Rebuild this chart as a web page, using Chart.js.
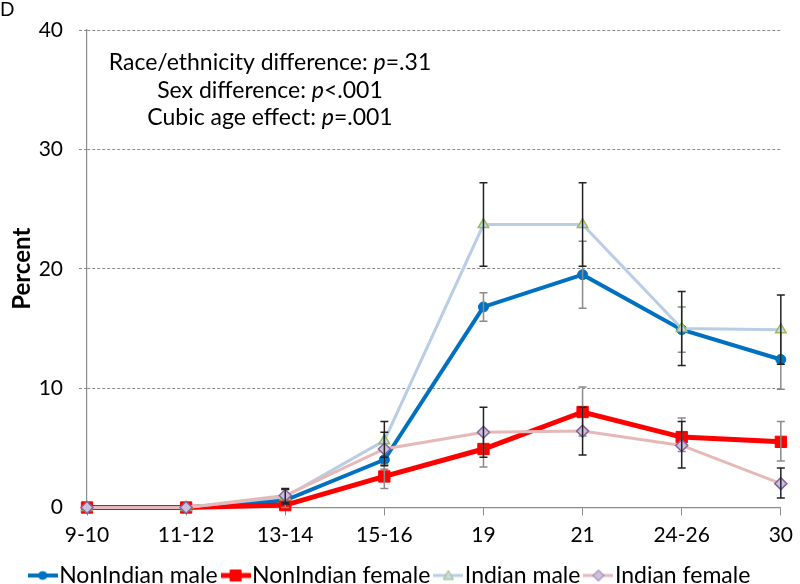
<!DOCTYPE html>
<html>
<head>
<meta charset="utf-8">
<title>Percent by age</title>
<script src="https://cdn.jsdelivr.net/npm/chart.js@4.4.0/dist/chart.umd.min.js"></script>
<style>
body { margin: 0; background: #fff; }
</style>
</head>
<body>
<canvas id="myChart" width="800" height="584"></canvas>
<script>
var ages = ["9-10", "11-12", "13-14", "15-16", "19", "21", "24-26", "30"];

var nonIndianMale = [0, 0, 0.6, 4.0, 16.8, 19.5, 14.9, 12.4];
var nonIndianFemale = [0, 0, 0.2, 2.6, 4.9, 8.0, 5.9, 5.5];
var indianMale = [0, 0, 0.9, 5.6, 23.7, 23.7, 15.0, 14.9];
var indianFemale = [0, 0, 1.0, 4.9, 6.3, 6.4, 5.2, 2.0];

// error bar ends
var nonIndianMaleLow = [0, 0, 0.3, 3.2, 15.6, 16.7, 13.0, 9.9];
var nonIndianMaleHigh = [0, 0, 0.9, 4.9, 18.0, 22.3, 16.8, 14.9];
var nonIndianFemaleLow = [0, 0, 0, 1.6, 3.4, 6.0, 4.7, 3.9];
var nonIndianFemaleHigh = [0, 0, 0.4, 3.6, 6.4, 10.1, 7.5, 7.2];
var indianMaleLow = [0, 0, 0.3, 4.2, 20.2, 20.2, 11.9, 12.0];
var indianMaleHigh = [0, 0, 1.5, 7.2, 27.2, 27.2, 18.1, 17.8];
var indianFemaleLow = [0, 0, 0.4, 3.5, 4.2, 4.4, 3.3, 0.8];
var indianFemaleHigh = [0, 0, 1.6, 6.3, 8.4, 8.4, 7.2, 3.3];

var notesText = [
    ["Race/ethnicity difference: ", "p", "=.31"],
    ["Sex difference: ", "p", "<.001"],
    ["Cubic age effect: ", "p", "=.001"]
];

var FONT = "Lato, 'Open Sans', sans-serif";

// little line+marker picture for the legend
function legendSymbol(lineColor, lineWidth, style, fill, stroke, r) {
    var c = document.createElement('canvas');
    c.width = 30;
    c.height = 20;
    var g = c.getContext('2d');
    g.strokeStyle = lineColor;
    g.lineWidth = lineWidth;
    g.beginPath();
    g.moveTo(0, 10);
    g.lineTo(30, 10);
    g.stroke();
    g.fillStyle = fill;
    g.strokeStyle = stroke;
    g.lineWidth = 1;
    g.beginPath();
    if (style == 'circle') {
        g.arc(15, 10, r, 0, Math.PI * 2);
    } else if (style == 'rect') {
        g.rect(15 - r, 10 - r, 2 * r, 2 * r);
    } else if (style == 'triangle') {
        g.moveTo(15, 10 - r);
        g.lineTo(15 + r, 10 + r * 0.8);
        g.lineTo(15 - r, 10 + r * 0.8);
        g.closePath();
    } else {
        g.moveTo(15, 10 - r);
        g.lineTo(15 + r, 10);
        g.lineTo(15, 10 + r);
        g.lineTo(15 - r, 10);
        g.closePath();
    }
    g.fill();
    g.stroke();
    return c;
}

var symbols = [
    legendSymbol('#0070C0', 4, 'circle', '#0070C0', '#0070C0', 4),
    legendSymbol('#FF0000', 5, 'rect', '#FF0000', '#FF0000', 5.5),
    legendSymbol('#B9CDE5', 3, 'triangle', '#C6D9F1', '#9BBB59', 5),
    legendSymbol('#E6B9B8', 3, 'diamond', '#CCC0DA', '#8064A2', 5.5)
];

var errorBars = {
    id: 'errorBars',
    afterDatasetDraw: function(chart, args) {
        var ds = chart.data.datasets[args.index];
        if (!ds.errLow) return;
        var ctx = chart.ctx, xs = chart.scales.x, ys = chart.scales.y;
        ctx.save();
        ctx.strokeStyle = ds.errColor;
        ctx.lineWidth = 1.5;
        ds.data.forEach(function(v, i) {
            var lo = ds.errLow[i], hi = ds.errHigh[i];
            if (hi - lo <= 0) return;
            var px = xs.getPixelForValue(i);
            var y1 = ys.getPixelForValue(lo), y2 = ys.getPixelForValue(hi);
            ctx.beginPath();
            ctx.moveTo(px, y1); ctx.lineTo(px, y2);
            ctx.moveTo(px - 4, y1); ctx.lineTo(px + 4, y1);
            ctx.moveTo(px - 4, y2); ctx.lineTo(px + 4, y2);
            ctx.stroke();
        });
        ctx.restore();
    }
};

var notes = {
    id: 'notes',
    afterDraw: function(chart) {
        var ctx = chart.ctx;
        ctx.save();
        ctx.fillStyle = '#000';
        ctx.textBaseline = 'middle';
        ctx.textAlign = 'left';
        ctx.font = '19px ' + FONT;
        ctx.fillText('D', 0, 10);
        var ys = [63, 91, 118];
        notesText.forEach(function(parts, n) {
            var fonts = ['23px ' + FONT, 'italic 23px ' + FONT, '23px ' + FONT];
            var w = 0;
            parts.forEach(function(p, k) { ctx.font = fonts[k]; w += ctx.measureText(p).width; });
            var x = 270 - w / 2;
            parts.forEach(function(p, k) {
                ctx.font = fonts[k];
                ctx.fillText(p, x, ys[n]);
                x += ctx.measureText(p).width;
            });
        });
        ctx.restore();
    }
};

var ctx = document.getElementById("myChart").getContext('2d');
var myChart = new Chart(ctx, {
    type: 'line',
    data: {
        labels: ages,
        datasets: [{
            label: 'NonIndian male',
            data: nonIndianMale,
            borderColor: '#0070C0',
            borderWidth: 4,
            pointStyle: 'circle',
            pointRadius: 5,
            pointBackgroundColor: '#0070C0',
            pointBorderColor: '#0070C0',
            pointBorderWidth: 1,
            errLow: nonIndianMaleLow,
            errHigh: nonIndianMaleHigh,
            errColor: '#8a8a8a',
            order: 3
        }, {
            label: 'NonIndian female',
            data: nonIndianFemale,
            borderColor: '#FF0000',
            borderWidth: 5,
            pointStyle: 'rect',
            pointRadius: 8,
            pointBackgroundColor: '#FF0000',
            pointBorderColor: '#FF0000',
            pointBorderWidth: 1,
            errLow: nonIndianFemaleLow,
            errHigh: nonIndianFemaleHigh,
            errColor: '#8a8a8a',
            order: 2
        }, {
            label: 'Indian male',
            data: indianMale,
            borderColor: '#B9CDE5',
            borderWidth: 3,
            pointStyle: 'triangle',
            pointRadius: 6,
            pointBackgroundColor: '#C6D9F1',
            pointBorderColor: '#9BBB59',
            pointBorderWidth: 1.5,
            errLow: indianMaleLow,
            errHigh: indianMaleHigh,
            errColor: '#222',
            order: 1
        }, {
            label: 'Indian female',
            data: indianFemale,
            borderColor: '#E6B9B8',
            borderWidth: 3,
            pointStyle: 'rectRot',
            pointRadius: 6,
            pointBackgroundColor: '#CCC0DA',
            pointBorderColor: '#8064A2',
            pointBorderWidth: 1.5,
            errLow: indianFemaleLow,
            errHigh: indianFemaleHigh,
            errColor: '#222',
            order: 0
        }]
    },
    options: {
        responsive: false,
        animation: false,
        devicePixelRatio: 1,
        layout: {
            padding: { top: 30, right: 12, bottom: -13, left: 0 }
        },
        elements: {
            line: { tension: 0 }
        },
        datasets: {
            line: { clip: false }
        },
        plugins: {
            tooltip: { enabled: false },
            legend: {
                position: 'bottom',
                labels: {
                    usePointStyle: true,
                    pointStyleWidth: 10,
                    padding: 13,
                    color: '#000',
                    font: { family: FONT, size: 23 },
                    generateLabels: function(chart) {
                        return chart.data.datasets.map(function(ds, i) {
                            return {
                                text: ds.label,
                                pointStyle: symbols[i],
                                fillStyle: 'transparent',
                                strokeStyle: 'transparent',
                                lineWidth: 0,
                                hidden: false,
                                datasetIndex: i,
                                fontColor: '#000'
                            };
                        });
                    }
                }
            }
        },
        scales: {
            x: {
                afterFit: function(scale) { scale.height = 43.5; },
                grid: {
                    drawOnChartArea: false,
                    tickLength: 8,
                    color: '#8c8c8c'
                },
                border: { color: '#8c8c8c', width: 1.2 },
                ticks: {
                    color: '#000',
                    padding: 7,
                    maxRotation: 0,
                    font: { family: FONT, size: 21 }
                }
            },
            y: {
                min: 0,
                max: 40,
                afterFit: function(scale) { scale.width = 87; },
                title: {
                    display: true,
                    text: 'Percent',
                    color: '#000',
                    padding: { top: 8, bottom: 0 },
                    font: { family: FONT, size: 24, weight: 'bold' }
                },
                grid: {
                    tickLength: 8,
                    color: function(c) { return c.tick && c.tick.value === 0 ? 'rgba(0,0,0,0)' : '#8c8c8c'; },
                    tickBorderDash: [3, 2]
                },
                border: { color: '#8c8c8c', width: 1.2, dash: [3, 2] },
                ticks: {
                    stepSize: 10,
                    color: '#000',
                    padding: 16,
                    font: { family: FONT, size: 21 }
                }
            }
        }
    },
    plugins: [errorBars, notes]
});
</script>
</body>
</html>
